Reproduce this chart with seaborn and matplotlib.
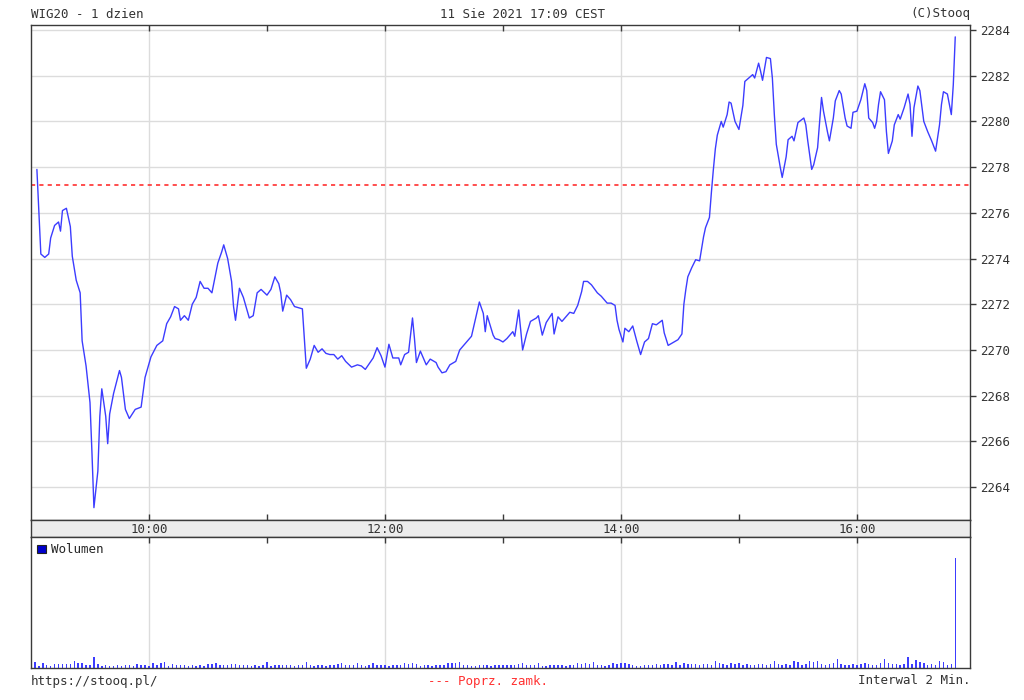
import numpy as np
import pandas as pd
import seaborn as sns
import matplotlib.pyplot as plt
from matplotlib.patches import Patch

# WIG20 intraday, 11 Aug 2021, minutes after 9:00
minutes = [3, 4, 5, 7, 9, 10, 12, 14, 15, 16,
           18, 20, 21, 23, 25, 26, 28, 30, 31, 32,
           34, 35, 36, 38, 39, 40, 42, 45, 46, 48,
           50, 53, 56, 58, 61, 64, 67, 69, 71, 73,
           75, 76, 78, 80, 82, 84, 86, 88, 90, 92,
           95, 97, 98, 100, 102, 103, 104, 106, 108, 111,
           113, 115, 117, 120, 122, 124, 126, 127, 128, 130,
           132, 134, 136, 138, 140, 142, 144, 146, 148, 150,
           152, 154, 156, 158, 160, 163, 166, 168, 170, 174,
           176, 178, 180, 182, 184, 187, 188, 190, 192, 194,
           195, 196, 198, 201, 203, 206, 207, 209, 211, 213,
           216, 218, 222, 224, 226, 228, 230, 231, 232, 235,
           236, 238, 240, 242, 245, 246, 248, 249, 250, 252,
           254, 257, 258, 260, 262, 265, 266, 268, 270, 272,
           274, 276, 278, 280, 281, 283, 285, 288, 290, 293,
           295, 297, 298, 299, 301, 302, 304, 306, 308, 310,
           312, 314, 316, 318, 321, 322, 324, 327, 329, 331,
           332, 333, 334, 336, 338, 340, 342, 343, 345, 346,
           347, 348, 349, 351, 352, 354, 355, 356, 358, 360,
           362, 363, 365, 367, 368, 370, 371, 372, 374, 376,
           377, 378, 379, 381, 382, 384, 385, 387, 388, 390,
           393, 394, 395, 397, 398, 400, 402, 403, 405, 406,
           408, 409, 411, 412, 414, 415, 417, 418, 420, 422,
           424, 425, 426, 428, 429, 430, 431, 432, 434, 435,
           436, 438, 439, 441, 442, 444, 446, 447, 448, 449,
           451, 452, 454, 456, 458, 460, 462, 463, 464, 466,
           468, 469, 470]

prices = [2277.9, 2276.0, 2274.2, 2274.05, 2274.2, 2274.9, 2275.45, 2275.6, 2275.2, 2276.1,
          2276.2, 2275.4, 2274.1, 2273.05, 2272.5, 2270.4, 2269.3, 2267.7, 2265.5, 2263.1,
          2264.7, 2267.1, 2268.3, 2267.1, 2265.9, 2267.2, 2268.1, 2269.1, 2268.8, 2267.4,
          2267.0, 2267.4, 2267.5, 2268.8, 2269.7, 2270.2, 2270.4, 2271.15, 2271.45, 2271.9,
          2271.8, 2271.3, 2271.5, 2271.3, 2272.0, 2272.3, 2273.0, 2272.7, 2272.7, 2272.5,
          2273.8, 2274.3, 2274.6, 2274.0, 2273.0, 2271.9, 2271.3, 2272.7, 2272.3, 2271.4,
          2271.5, 2272.5, 2272.65, 2272.4, 2272.65, 2273.2, 2272.9, 2272.5, 2271.7, 2272.4,
          2272.2, 2271.9, 2271.85, 2271.8, 2269.2, 2269.6, 2270.2, 2269.9, 2270.05, 2269.85,
          2269.8, 2269.8, 2269.6, 2269.75, 2269.5, 2269.25, 2269.35, 2269.3, 2269.15, 2269.65,
          2270.1, 2269.75, 2269.25, 2270.25, 2269.65, 2269.65, 2269.35, 2269.8, 2269.9, 2271.4,
          2270.5, 2269.45, 2269.95, 2269.35, 2269.6, 2269.45, 2269.25, 2269.0, 2269.05, 2269.35,
          2269.5, 2270.0, 2270.4, 2270.6, 2271.35, 2272.1, 2271.6, 2270.8, 2271.5, 2270.65,
          2270.5, 2270.45, 2270.35, 2270.5, 2270.8, 2270.6, 2271.75, 2270.9, 2270.0, 2270.7,
          2271.25, 2271.4, 2271.5, 2270.65, 2271.2, 2271.6, 2270.7, 2271.45, 2271.25, 2271.45,
          2271.65, 2271.6, 2271.95, 2272.55, 2273.0, 2273.0, 2272.85, 2272.5, 2272.35, 2272.05,
          2272.05, 2271.95, 2271.3, 2270.9, 2270.35, 2270.95, 2270.8, 2271.05, 2270.4, 2269.8,
          2270.35, 2270.5, 2271.15, 2271.1, 2271.3, 2270.75, 2270.2, 2270.35, 2270.45, 2270.7,
          2272.0, 2272.65, 2273.2, 2273.6, 2273.95, 2273.9, 2274.95, 2275.35, 2275.8, 2276.9,
          2277.9, 2278.8, 2279.4, 2280.0, 2279.75, 2280.3, 2280.85, 2280.8, 2280.0, 2279.65,
          2280.7, 2281.75, 2281.9, 2282.05, 2281.9, 2282.55, 2282.2, 2281.8, 2282.8, 2282.75,
          2281.9, 2280.3, 2279.0, 2278.0, 2277.55, 2278.45, 2279.2, 2279.35, 2279.15, 2279.95,
          2280.15, 2279.85, 2279.15, 2277.9, 2278.1, 2278.85, 2281.05, 2280.45, 2279.55, 2279.15,
          2280.15, 2280.9, 2281.35, 2281.2, 2280.15, 2279.8, 2279.7, 2280.4, 2280.45, 2280.95,
          2281.65, 2281.35, 2280.15, 2279.95, 2279.7, 2280.0, 2280.75, 2281.3, 2280.95, 2279.55,
          2278.6, 2279.15, 2279.85, 2280.3, 2280.1, 2280.6, 2281.2, 2280.75, 2279.35, 2280.6,
          2281.55, 2281.35, 2280.0, 2279.55, 2279.15, 2278.7, 2279.85, 2280.75, 2281.3, 2281.2,
          2280.3, 2281.6, 2283.7]

prev_close = 2277.2

# volume per 2-minute bar (relative units), 9:02 .. 16:50
volume = [6, 2, 5, 3, 2, 4, 4, 4, 4, 4, 7, 5, 5, 3, 3, 11, 4, 2, 3, 2,
          2, 3, 2, 3, 3, 2, 4, 3, 3, 2, 5, 3, 5, 6, 2, 4, 3, 3, 3, 2,
          3, 2, 3, 2, 4, 4, 5, 3, 3, 3, 4, 4, 3, 3, 3, 2, 3, 2, 3, 6,
          2, 3, 3, 3, 3, 3, 2, 3, 3, 6, 3, 2, 3, 3, 2, 3, 3, 4, 5, 3,
          3, 3, 5, 3, 2, 3, 5, 3, 3, 3, 2, 3, 3, 3, 5, 4, 5, 4, 2, 3,
          3, 2, 3, 3, 3, 5, 5, 5, 6, 3, 3, 2, 2, 3, 3, 3, 2, 3, 3, 3,
          3, 3, 3, 4, 5, 3, 3, 3, 5, 2, 2, 3, 3, 3, 3, 2, 3, 3, 5, 4,
          5, 4, 6, 3, 3, 2, 3, 5, 4, 5, 5, 4, 3, 2, 2, 3, 3, 3, 4, 3,
          4, 4, 3, 6, 3, 5, 4, 4, 4, 3, 4, 4, 3, 7, 5, 4, 3, 5, 4, 5,
          3, 4, 3, 3, 4, 4, 3, 4, 7, 4, 3, 4, 3, 7, 6, 3, 4, 7, 6, 7,
          4, 3, 4, 5, 9, 4, 3, 3, 4, 3, 4, 5, 4, 3, 3, 5, 9, 5, 4, 4,
          3, 4, 11, 4, 8, 6, 5, 3, 4, 3, 7, 6, 3, 4, 110]
vol_minutes = np.arange(2, 2 * len(volume) + 1, 2)

hour_labels = ['10:00', '12:00', '14:00', '16:00']
y_ticks = list(range(2264, 2285, 2))

df = pd.DataFrame({'minute': minutes, 'price': prices})

sns.set_style('white')
plt.rcParams['font.family'] = ['DejaVu Sans Mono', 'DejaVu Sans']
plt.rcParams['font.size'] = 9

W, H = 1024, 700
fig = plt.figure(figsize=(W / 100, H / 100), dpi=100)


def box(l, t, r, b):
    return [l / W, 1 - b / H, (r - l) / W, (b - t) / H]


ax = fig.add_axes(box(31, 25, 970, 520))
band = fig.add_axes(box(31, 520, 970, 537))
axv = fig.add_axes(box(31, 537, 970, 668))

xmin, xmax = 0, 477.5
edge = '#3a3a3a'
grid = '#dcdcdc'
blue = '#3c3cff'

# price panel
for v in y_ticks:
    ax.axhline(v, color=grid, lw=1, zorder=0)
for m in [60, 180, 300, 420]:
    ax.axvline(m, color=grid, lw=1, zorder=0)
    axv.axvline(m, color=grid, lw=1, zorder=0)
ax.axhline(prev_close, color='#ff3030', lw=1.2, ls=(0, (2.5, 2.5)), zorder=1)
sns.lineplot(data=df, x='minute', y='price', ax=ax, color=blue, lw=1.0, zorder=2)
ax.set_xlim(xmin, xmax)
ax.set_ylim(2262.56, 2284.22)
ax.set_xlabel('')
ax.set_ylabel('')
ax.yaxis.tick_right()
ax.set_yticks(y_ticks)
ax.set_yticklabels([str(v) for v in y_ticks], color='#333333')
ax.set_xticks(range(60, 480, 60))
ax.set_xticklabels([])
ax.tick_params(axis='y', direction='out', length=4, width=1, color=edge, pad=3, labelsize=9)
ax.tick_params(axis='x', direction='in', length=4, width=1, color=edge, top=True, bottom=True)

# time band
band.set_facecolor('#ececec')
band.set_xlim(xmin, xmax)
band.set_ylim(0, 1)
band.set_xticks([])
band.set_yticks([])
for m, lab in zip([60, 180, 300, 420], hour_labels):
    band.text(m, 0.45, lab, ha='center', va='center', fontsize=9, color='#333333')

# volume panel
axv.bar(vol_minutes, volume, width=0.75, color='#3c3cff', linewidth=0, antialiased=False)
axv.set_xlim(xmin, xmax)
axv.set_ylim(0, 131)
axv.set_xticks(range(60, 480, 60))
axv.set_xticklabels([])
axv.set_yticks([])
axv.tick_params(axis='x', direction='in', length=4, width=1, color=edge, top=True, bottom=False)
axv.legend(handles=[Patch(facecolor='#0000cc', edgecolor='#222222', linewidth=0.8)],
           labels=['Wolumen'], loc='upper left', frameon=False, fontsize=9,
           handlelength=0.7, handleheight=0.7, handletextpad=0.4,
           borderaxespad=0.2, borderpad=0.3)

for a in (ax, band, axv):
    for s in a.spines.values():
        s.set_color(edge)
        s.set_linewidth(1)

# header and footer texts
fig.text(31 / W, 1 - 14 / H, 'WIG20 - 1 dzien', ha='left', va='center', color='#333333')
fig.text(522 / W, 1 - 14 / H, '11 Sie 2021 17:09 CEST', ha='center', va='center', color='#333333')
fig.text(970 / W, 1 - 14 / H, '(C)Stooq', ha='right', va='center', color='#333333')
fig.text(31 / W, 1 - 681 / H, 'https://stooq.pl/', ha='left', va='center', color='#333333')
fig.text(488 / W, 1 - 681 / H, '--- Poprz. zamk.', ha='center', va='center', color='#ff3030')
fig.text(970 / W, 1 - 681 / H, 'Interwal 2 Min.', ha='right', va='center', color='#333333')

fig.savefig('out.png', dpi=100)
